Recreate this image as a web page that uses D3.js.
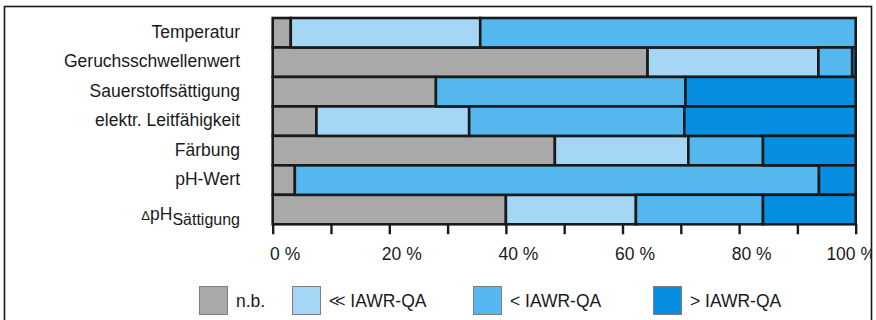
<!DOCTYPE html>
<html>
<head>
<meta charset="utf-8">
<script src="https://cdn.jsdelivr.net/npm/d3@7"></script>
<style>
  html, body { margin: 0; padding: 0; background: #fff; }
  svg { display: block; font-family: "Liberation Sans", Arial, Helvetica, sans-serif; }
</style>
</head>
<body>
<svg id="chart" width="876" height="320"></svg>
<script>
// Parameters ("_" marks a subscript part of the label)
const categories = ["Temperatur", "Geruchsschwellenwert", "Sauerstoffsättigung",
  "elektr. Leitfähigkeit", "Färbung", "pH-Wert", "ΔpH_Sättigung"];

// Share of measurements per class, in %
const nb      = [3.1, 64.3, 28.0, 7.5, 48.4, 3.8, 40.0];   // n.b.
const farBelow = [32.5, 29.3, 0.0, 26.2, 22.9, 0.0, 22.3]; // << IAWR-QA
const below   = [64.4, 5.8, 42.8, 36.9, 12.8, 89.9, 21.8]; // < IAWR-QA
const above   = [0.0, 0.6, 29.2, 29.4, 15.9, 6.3, 15.9];   // > IAWR-QA

const seriesKeys = ["nb", "farBelow", "below", "above"];
const seriesNames = ["n.b.", "<< IAWR-QA", "< IAWR-QA", "> IAWR-QA"];
const tickValues = [0, 10, 20, 30, 40, 50, 60, 70, 80, 90, 100];

const colors = { nb: "#a9a9a9", farBelow: "#a5d6f6", below: "#54b8ee", above: "#068fe0" };

const rows = categories.map((c, i) => ({
  cat: c, nb: nb[i], farBelow: farBelow[i], below: below[i], above: above[i]
}));

const svg = d3.select("#chart");
const FONT = 17.5;

// Frame clip so content cannot spill beyond the border
svg.append("defs").append("clipPath").attr("id", "frameClip")
  .append("rect").attr("x", 4.5).attr("y", 6.5).attr("width", 867).attr("height", 320);

const g = svg.append("g").attr("clip-path", "url(#frameClip)");

const x = d3.scaleLinear().domain([0, 100]).range([272.7, 855.7]);
const y = d3.scaleBand().domain(categories).range([18, 224.3]).paddingInner(0).paddingOuter(0);

const stacked = d3.stack().keys(seriesKeys)(rows);

// Bars
const layer = g.append("g");
stacked.forEach(s => {
  layer.selectAll(null)
    .data(s.filter(d => d[1] - d[0] > 0))
    .join("rect")
      .attr("x", d => x(d[0]))
      .attr("y", d => y(d.data.cat))
      .attr("width", d => x(d[1]) - x(d[0]))
      .attr("height", y.bandwidth())
      .attr("fill", colors[s.key])
      .attr("stroke", "#1a1a1a")
      .attr("stroke-width", 2.6);
});

// Category labels
const labels = g.append("g").attr("font-size", FONT).attr("fill", "#1a1a1a");
categories.forEach(c => {
  const parts = c.split("_");
  const t = labels.append("text")
    .attr("x", 240)
    .attr("y", y(c) + y.bandwidth() / 2)
    .attr("text-anchor", "end");
  if (parts.length === 1) {
    t.attr("dy", "0.28em").text(c);
  } else {
    t.attr("dy", "0.62em");
    const main = parts[0];
    t.append("tspan").attr("font-size", 13).text(main.slice(0, 1));
    t.append("tspan").text(main.slice(1));
    t.append("tspan").attr("font-size", 16).attr("dy", 5).text(parts[1]);
  }
});

// Axis
const axis = d3.axisBottom(x)
  .tickValues(tickValues)
  .tickSize(10)
  .tickPadding(13)
  .tickFormat(d => d % 20 === 0 ? `${d} %` : "");

const ax = g.append("g")
  .attr("transform", `translate(0,${y.range()[1]})`)
  .call(axis);
ax.select(".domain").remove();
ax.selectAll(".tick line").attr("stroke", "#1a1a1a").attr("stroke-width", 2.4);
ax.selectAll(".tick text")
  .attr("font-size", FONT)
  .attr("font-family", "\"Liberation Sans\", Arial, sans-serif")
  .attr("fill", "#1a1a1a")
  .attr("dx", d => d === 100 ? -5 : 12);

// Legend
const legendX = [199, 292, 473, 653];
const legend = g.append("g");
seriesKeys.forEach((k, i) => {
  const item = legend.append("g").attr("transform", `translate(${legendX[i]},286)`);
  item.append("rect")
    .attr("x", 0.5).attr("y", 0.5).attr("width", 28).attr("height", 28)
    .attr("fill", colors[k]).attr("stroke", "#7d7d7d").attr("stroke-width", 1);
  const t = item.append("text")
    .attr("x", 37).attr("y", 21)
    .attr("font-size", FONT).attr("fill", "#1a1a1a");
  const name = seriesNames[i];
  if (name.startsWith("<<")) {
    t.append("tspan").attr("letter-spacing", -4).text("<<");
    t.append("tspan").attr("dx", 4).text(name.slice(2));
  } else {
    t.text(name);
  }
});

// Outer frame
svg.append("rect")
  .attr("x", 4.5).attr("y", 6.5).attr("width", 867).attr("height", 330)
  .attr("fill", "none").attr("stroke", "#1a1a1a").attr("stroke-width", 1.6);
</script>
</body>
</html>
